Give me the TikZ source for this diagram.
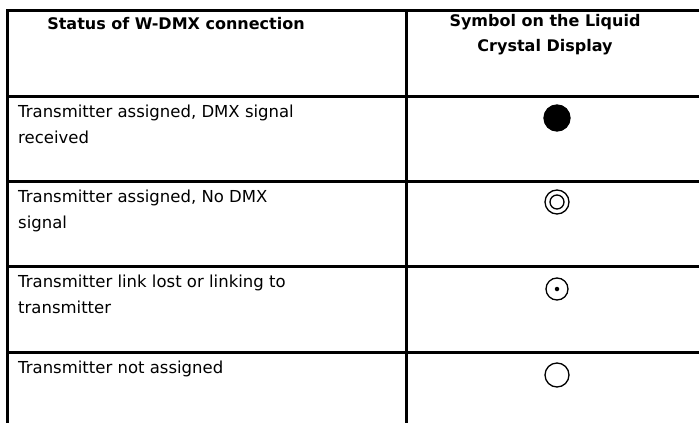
\documentclass[tikz,border=0pt]{standalone}
\usepackage{fontspec}
\setmainfont{DejaVu Sans}
\usetikzlibrary{positioning}

\begin{document}
\begin{tikzpicture}[x=1pt,y=-1pt]

\tikzset{grid/.style = {line width=3pt}}
\tikzset{cell/.style = {anchor=north west, align=left, inner sep=0pt, font=\fontsize{16.5}{25.5}\selectfont}}
\tikzset{head/.style = {align=center, inner sep=0pt, font=\bfseries\fontsize{16}{25}\selectfont}}
\tikzset{lamp/.style = {shape=circle, draw, line width=1.3pt, inner sep=0pt, minimum size=24pt}}

\useasboundingbox (0,0) rectangle (699,423);
%table lines
\draw[grid] (699,10) -- (7,10) -- (7,423);
\draw[grid] (406,10) -- (406,423);
\foreach \y in {96,181,266,352} \draw[grid] (7,\y) -- (699,\y);

%header
\node[head] (status) at (176,24) {Status of W-DMX connection};
\node[head] (symbol) at (545,35) {Symbol on the Liquid\\Crystal Display};

%states
\node[cell] (received) at (18,105) {Transmitter assigned, DMX signal\\received};
\node[cell] (nosignal) at (18,190) {Transmitter assigned, No DMX\\signal};
\node[cell] (linklost) at (18,275) {Transmitter link lost or linking to\\transmitter};
\node[cell] (unassigned) at (18,361) {Transmitter not assigned};

%symbols
\node[lamp, fill, minimum size=26pt] (full) at (557,118) {};
\node[lamp] (ring) at (557,202) {};
\node[lamp, minimum size=14pt] (ringin) at (ring) {};
\node[lamp, minimum size=22pt] (dot) at (557,289) {};
\node[shape=circle, fill, inner sep=0pt, minimum size=4.5pt] (dotin) at (dot) {};
\node[lamp] (empty) at (557,375) {};

\end{tikzpicture}
\end{document}
